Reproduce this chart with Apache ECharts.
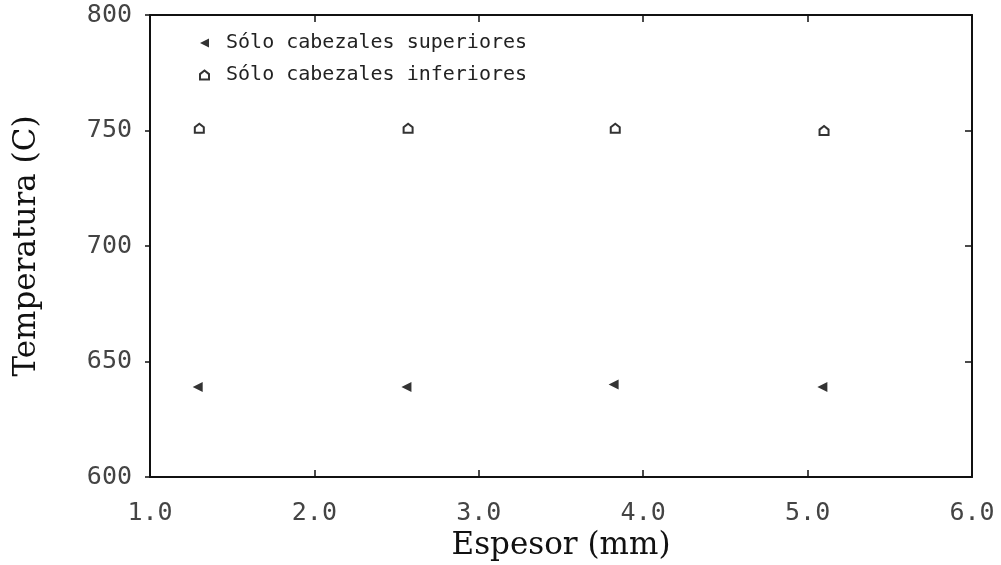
<!DOCTYPE html>
<html>
<head>
<meta charset="utf-8">
<script src="https://cdn.jsdelivr.net/npm/echarts@6/dist/echarts.min.js"></script>
<style>
    html, body { margin: 0; padding: 0; background: #fff; }
    #chart { width: 1001px; height: 565px; }
</style>
</head>
<body>
<div id="chart"></div>
<script>
// espesor (mm) and temperatura (C)
const espesorSup = [1.29, 2.56, 3.82, 5.09]
const tempSup = [639, 639, 640, 639]
const espesorInf = [1.30, 2.57, 3.83, 5.10]
const tempInf = [751, 751, 751, 750]
const seriesNames = ['Sólo cabezales superiores', 'Sólo cabezales inferiores']

const xTicks = { min: 1, max: 6, interval: 1 }
const yTicks = { min: 600, max: 800, interval: 50 }

const leftTriangle = 'path://M10,0 L0,5 L10,10 Z'
const houseIcon = 'path://M0,10 L0,4 L5,0 L10,4 L10,10 Z'
const monoFont = '"DejaVu Sans Mono", monospace'
const serifFont = '"DejaVu Serif", "Liberation Serif", serif'

;(function (){
    const myChart = echarts.init(document.getElementById('chart'))

    const axisLine = { show: true, lineStyle: { color: '#111', width: 2 } }
    const tickInside = { show: true, inside: true, length: 7, lineStyle: { color: '#111', width: 1.5 } }

    const option = {
        animation: false,
        backgroundColor: '#fff',
        grid: { left: 150, right: 29, top: 15, bottom: 88, outerBoundsMode: 'none' },
        legend: {
            orient: 'vertical',
            left: 194,
            top: 28,
            itemGap: 12,
            itemWidth: 9,
            itemHeight: 9,
            formatter: function (name) { return ' ' + name },
            textStyle: { fontFamily: monoFont, fontSize: 20, color: '#222' },
            data: [
                { name: seriesNames[0], icon: leftTriangle, itemStyle: { color: '#000' } },
                { name: seriesNames[1], icon: houseIcon, itemStyle: { color: '#fff', borderColor: '#000', borderWidth: 2 } }
            ]
        },
        xAxis: [
            {
                type: 'value',
                min: xTicks.min, max: xTicks.max, interval: xTicks.interval,
                name: 'Espesor (mm)',
                nameLocation: 'middle',
                nameGap: 53,
                nameTextStyle: { fontFamily: serifFont, fontSize: 31, color: '#111' },
                axisLine: axisLine,
                axisTick: tickInside,
                splitLine: { show: false },
                axisLabel: {
                    margin: 24,
                    fontFamily: monoFont, fontSize: 25, color: '#444',
                    formatter: function (v) { return v.toFixed(1) }
                }
            },
            {
                type: 'value', position: 'top',
                min: xTicks.min, max: xTicks.max, interval: xTicks.interval,
                axisLine: axisLine,
                axisTick: tickInside,
                axisLabel: { show: false },
                splitLine: { show: false }
            }
        ],
        yAxis: [
            {
                type: 'value',
                min: yTicks.min, max: yTicks.max, interval: yTicks.interval,
                name: 'Temperatura (C)',
                nameLocation: 'middle',
                nameGap: 108,
                nameTextStyle: { fontFamily: serifFont, fontSize: 31, color: '#111' },
                axisLine: axisLine,
                axisTick: { show: true, inside: false, length: 5, lineStyle: { color: '#111', width: 1.5 } },
                splitLine: { show: false },
                axisLabel: { margin: 18, fontFamily: monoFont, fontSize: 25, color: '#444' }
            },
            {
                type: 'value', position: 'right',
                min: yTicks.min, max: yTicks.max, interval: yTicks.interval,
                axisLine: axisLine,
                axisTick: tickInside,
                axisLabel: { show: false },
                splitLine: { show: false }
            }
        ],
        series: [
            {
                name: seriesNames[0],
                type: 'scatter',
                symbol: leftTriangle,
                symbolSize: 10,
                itemStyle: { color: '#000' },
                data: espesorSup.map(function (x, i) { return [x, tempSup[i]] })
            },
            {
                name: seriesNames[1],
                type: 'scatter',
                symbol: houseIcon,
                symbolSize: 9,
                itemStyle: { color: '#fff', borderColor: '#000', borderWidth: 2 },
                data: espesorInf.map(function (x, i) { return [x, tempInf[i]] })
            }
        ]
    }

    myChart.setOption(option)

    window.addEventListener('resize', function () {
        myChart.resize()
    })
})();
</script>
</body>
</html>
